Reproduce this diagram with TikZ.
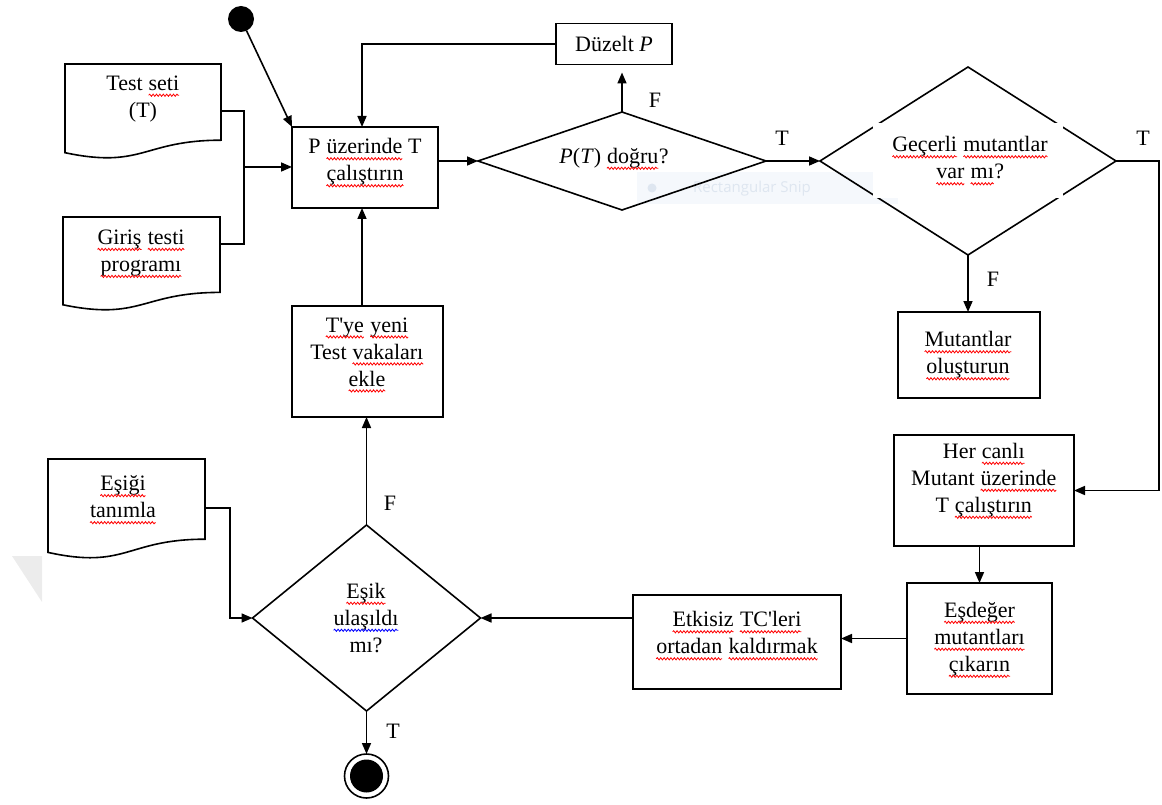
\documentclass[tikz,border=0pt]{standalone}
\usepackage{fontspec}
\setmainfont{Liberation Serif}[Ligatures=TeXOff]
\newfontfamily\snipfont{Open Sans}
\usetikzlibrary{arrows.meta,shapes.geometric,decorations.pathmorphing}
\definecolor{snipbg}{RGB}{245,248,252}
\definecolor{snipfg}{RGB}{222,230,240}
\definecolor{wmgray}{RGB}{236,236,236}
\newcommand\wavyul[2]{\tikz[baseline=(wv.base)]{\node[inner sep=0pt,outer sep=0pt](wv){#2};\draw[#1,line width=0.8pt,decorate,decoration={snake,amplitude=1.1pt,segment length=3.4pt}] ([yshift=-4.8pt]wv.base west) -- ([yshift=-4.8pt]wv.base east);}}
\newcommand\rw[1]{\wavyul{red}{#1}}
\newcommand\bw[1]{\wavyul{blue}{#1}}
\begin{document}
\begin{tikzpicture}[x=1pt,y=-1pt,
  every node/.style={font=\fontsize{22}{27}\selectfont, inner sep=0pt, outer sep=0pt},
  ln/.style={line width=1.6pt, draw=black},
  arr/.style={ln, -{Triangle[length=11pt,width=9pt]}},
  box/.style={draw, line width=1.6pt, rectangle},
  dia/.style={draw, line width=1.6pt, diamond, inner sep=0pt},
  txt/.style={align=center}
]
\useasboundingbox (0,0) rectangle (1162,805);

% faint screenshot artefacts
\fill[wmgray] (12,556) -- (42,556) -- (42,602) -- cycle;
\fill[snipbg] (637,172) rectangle (898,204);
\fill[snipfg] (652,188) circle (4.5);
\node[font=\snipfont\fontsize{15}{15}\selectfont, text=snipfg] (snip) at (752,189) {Rectangular Snip};

% documents
\draw[ln] (65,64) -- (221,64) -- (221,140.2) .. controls (143,140.2) and (143,169.2) .. (65,152.7) -- cycle;
\node[txt] (ts) at (143,99) {Test \rw{seti}\\(T)};
\draw[ln] (63,217) -- (220,217) -- (220,292.4) .. controls (141.5,292.4) and (141.5,321) .. (63,304.8) -- cycle;
\node[txt] (gi) at (141,254) {\rw{Giriş} \rw{testi}\\\rw{programı}};
\draw[ln] (48,459) -- (205,459) -- (205,539.2) .. controls (126.5,539.2) and (126.5,569.7) .. (48,552.4) -- cycle;
\node[txt] (eth) at (123,500) {\rw{Eşiği}\\\rw{tanımla}};

% boxes
\node[box, minimum width=146pt, minimum height=81pt] (run) at (365,167.5) {};
\node[txt] (runt) at (365,163) {P \rw{üzerinde} T\\\rw{çalıştırın}};
\node[box, minimum width=116pt, minimum height=41pt] (duz) at (614,44) {};
\node (duzt) at (614,44) {Düzelt \textit{P}};
\node[box, minimum width=142pt, minimum height=86pt] (mut) at (969,355) {};
\node[txt] (mutt) at (968,356) {\rw{Mutantlar}\\\rw{oluşturun}};
\node[box, minimum width=180pt, minimum height=111pt] (her) at (984,490.5) {};
\node[txt] (hert) at (984,481) {Her \rw{canlı}\\Mutant \rw{üzerinde}\\T \rw{çalıştırın}};
\node[box, minimum width=145pt, minimum height=111pt] (esd) at (979.5,638.5) {};
\node[txt] (esdt) at (979.5,640) {\rw{Eşdeğer}\\\rw{mutantları}\\\rw{çıkarın}};
\node[box, minimum width=208pt, minimum height=94pt] (etk) at (737,642) {};
\node[txt] (etkt) at (737,636) {\rw{Etkisiz} \rw{TC'leri}\\\rw{ortadan} \rw{kaldırmak}};
\node[box, minimum width=151pt, minimum height=111pt] (tye) at (367.5,361.5) {};
\node[txt] (tyet) at (367,355) {\rw{T'ye} \rw{yeni}\\Test \rw{vakaları}\\\rw{ekle}};

% diamonds
\node[dia, minimum width=288pt, minimum height=98pt] (pt) at (622,161) {};
\node (ptt) at (614,159) {\textit{P}(\textit{T}) \rw{doğru}?};
\node[dia, minimum width=296pt, minimum height=188pt] (gec) at (968,161) {};
\fill[white] (873,123) rectangle (1063,198);
\node[txt] (gect) at (970,161) {\rw{Geçerli} \rw{mutantlar}\\\rw{var} \rw{mı}?};
\node[dia, minimum width=228pt, minimum height=186pt] (esik) at (366.5,618) {};
\node[txt] (esikt) at (366,618) {\rw{Eşik}\\\bw{ulaşıldı}\\mı?};

% start / end
\node[circle, fill=black, minimum size=26pt] (start) at (241,19) {};
\node[circle, draw, line width=1.6pt, minimum size=44pt] (stop) at (366.5,776) {};
\node[circle, fill=black, minimum size=33pt] (stopin) at (stop) {};

% helper coordinates
\coordinate (tsE) at (221,111);
\coordinate (giE) at (220,244);
\coordinate (j) at (244,167);
\coordinate (xa) at (362,0);
\coordinate (xr) at (1159,0);
\coordinate (ethE) at (205,508);
\coordinate (xl) at (230,0);

% connectors
\draw[arr] (start) -- (run.north west);
\draw[ln] (tsE) -- (tsE -| j) -- (giE -| j) -- (giE);
\draw[arr] (j) -- (j -| run.west);
\draw[arr] (duz.west) -- (duz.west -| xa) -- (run.north -| xa);
\draw[arr] (run.east |- pt.west) -- (pt.west);
\draw[arr, shorten >=8pt] (pt.north) -- (pt.north |- duz.south);
\draw[arr] (pt.east) -- (gec.west);
\draw[arr] (gec.east) -- (gec.east -| xr) -- (xr |- her.east) -- (her.east);
\draw[arr] (gec.south) -- (gec.south |- mut.north);
\draw[arr] (her.south -| esd.north) -- (esd.north);
\draw[arr] (esd.west) -- (esd.west -| etk.east);
\draw[arr] (etk.west |- esik.east) -- (esik.east);
\draw[arr] (ethE) -- (ethE -| xl) -- (xl |- esik.west) -- (esik.west);
\draw[arr] (esik.north) -- (esik.north |- tye.south);
\draw[arr] (tye.north -| xa) -- (run.south -| xa);
\draw[arr] (esik.south) -- (stop.north);

% labels
\node (lf1) at (655,100) {F};
\node (lt1) at (782,138) {T};
\node (lt2) at (1143,138) {T};
\node (lf2) at (993,279) {F};
\node (lf3) at (390,503) {F};
\node (lt3) at (393,731) {T};
\end{tikzpicture}
\end{document}
